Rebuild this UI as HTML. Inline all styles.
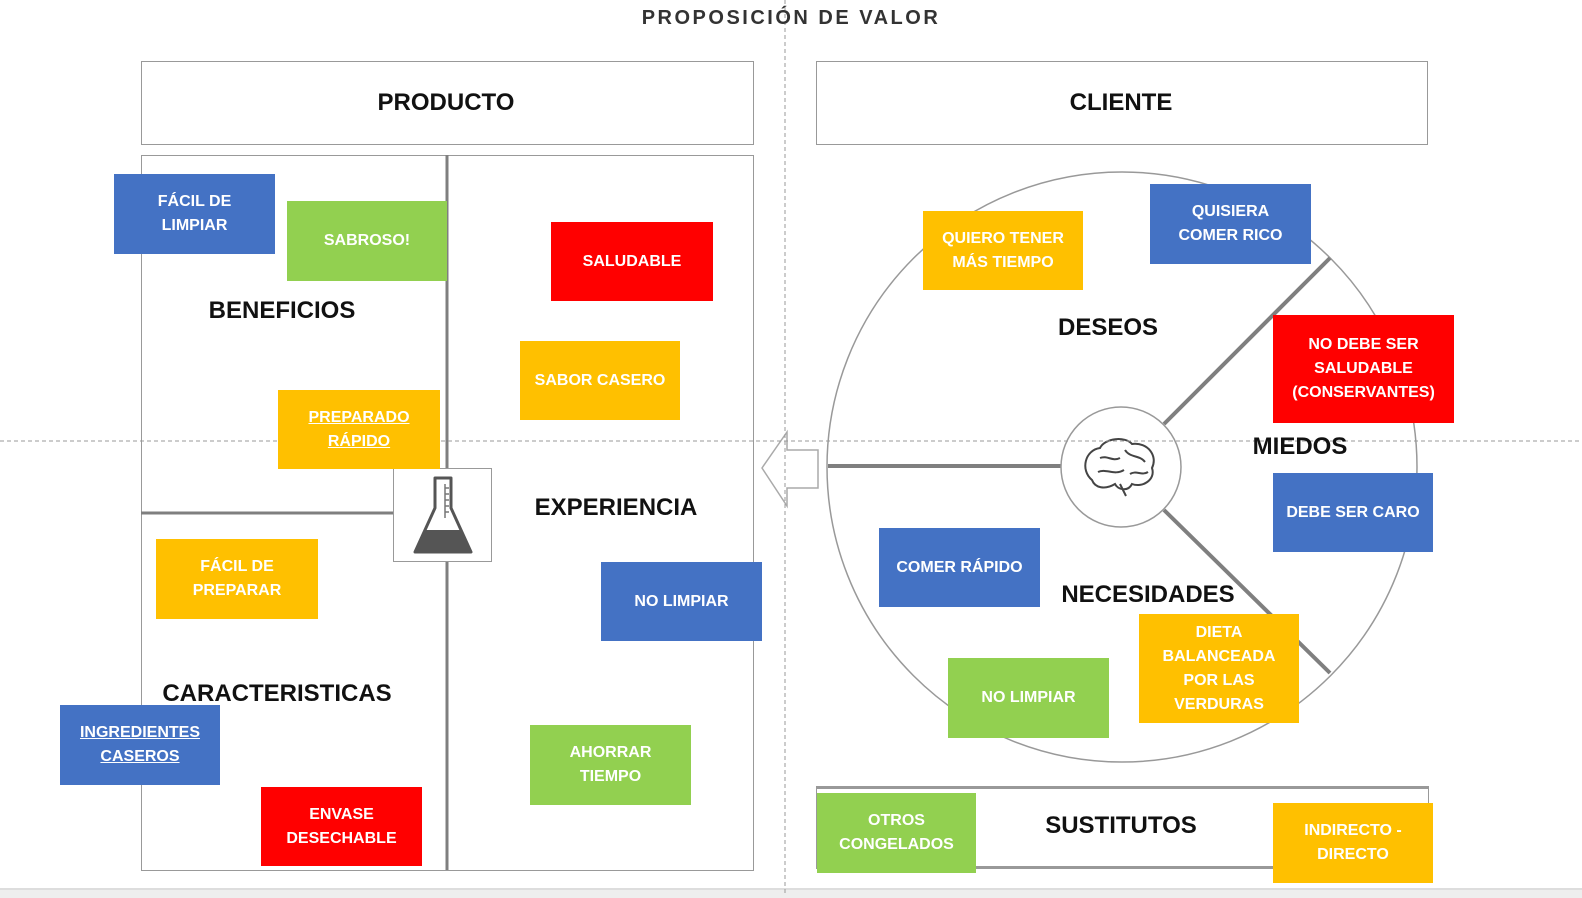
<!DOCTYPE html>
<html><head><meta charset="utf-8"><style>
body{margin:0;width:1582px;height:896px;background:#fff;position:relative;overflow:hidden;font-family:"Liberation Sans Narrow","Liberation Sans",sans-serif}
.b{position:absolute;display:flex;align-items:center;justify-content:center;text-align:center;color:#fff;font-weight:bold;font-size:16px;line-height:24px}
.bl{background:#4472c4}.gr{background:#92d050}.rd{background:#ff0000}.yl{background:#ffc000}
.u{text-decoration:underline}
.l{position:absolute;transform:translate(-50%,-50%);font-weight:bold;font-size:24px;color:#111;white-space:nowrap}
.box{position:absolute;border:1.5px solid #999;box-sizing:border-box;background:#fff}
</style></head><body>
<div style="position:absolute;left:0;top:888px;width:1582px;height:8px;background:#eee;border-top:2px solid #ddd"></div>
<div class="box" style="left:141px;top:61px;width:613px;height:84px"></div>
<div class="box" style="left:816px;top:61px;width:612px;height:84px"></div>
<div class="box" style="left:141px;top:155px;width:613px;height:716px"></div>
<div class="box" style="left:816px;top:786px;width:613px;height:83px;border-bottom-width:3px;border-top-width:3px"></div>
<svg style="position:absolute;left:0;top:0" width="1582" height="896">
<line x1="447" y1="155" x2="447" y2="870" stroke="#7f7f7f" stroke-width="3"/>
<line x1="141" y1="513" x2="393" y2="513" stroke="#7f7f7f" stroke-width="3"/>
<circle cx="1122" cy="467" r="295" fill="none" stroke="#999" stroke-width="1.5"/>
<line x1="828" y1="466" x2="1061" y2="466" stroke="#7f7f7f" stroke-width="4"/>
<line x1="1164" y1="424" x2="1330" y2="258" stroke="#7f7f7f" stroke-width="4"/>
<line x1="1164" y1="510" x2="1330" y2="673" stroke="#7f7f7f" stroke-width="4"/>
<circle cx="1121" cy="467" r="60" fill="#fff" stroke="#999" stroke-width="1.5"/>
<g fill="none" stroke="#444" stroke-width="2">
<path d="M1092 480 C1080 470 1085 450 1100 448 C1105 438 1125 436 1132 444 C1148 442 1158 456 1152 468 C1156 480 1142 488 1132 484 C1128 492 1118 490 1115 484 C1105 490 1095 488 1092 480 Z"/>
<path d="M1100 458 C1108 455 1112 462 1120 458 M1125 450 C1130 458 1140 455 1145 462 M1098 472 C1106 468 1114 476 1124 470 M1130 474 C1136 470 1142 476 1148 472 M1120 484 L1126 496"/>
</g>
<polygon points="762,468 787,432 787,450 818,450 818,488 787,488 787,506" fill="#fff" stroke="#aaa" stroke-width="1.5"/>
<line x1="785" y1="0" x2="785" y2="896" stroke="#999" stroke-dasharray="4,3"/>
<line x1="0" y1="441" x2="1582" y2="441" stroke="#999" stroke-dasharray="4,3"/>
</svg>
<div class="box" style="left:393px;top:468px;width:99px;height:94px"></div>
<svg style="position:absolute;left:393px;top:468px" width="99" height="94">
<path d="M42 10 L58 10 L58 40 L78 84 L22 84 L42 40 Z" fill="#fff" stroke="#555" stroke-width="3" stroke-linejoin="round"/>
<path d="M31 62 L69 62 L78 84 L22 84 Z" fill="#555"/>
<path d="M52 16 L52 50 M52 20h4M52 26h4M52 32h4M52 38h4M52 44h4" stroke="#777" stroke-width="1.5"/>
</svg>
<div style="position:absolute;left:0;width:1582px;top:7px;text-align:center;font-family:'Liberation Sans',sans-serif;font-weight:bold;font-size:20px;letter-spacing:2.5px;color:#333">PROPOSICIÓN DE VALOR</div>
<div class="l" style="left:446px;top:103px">PRODUCTO</div>
<div class="l" style="left:1121px;top:103px">CLIENTE</div>
<div class="l" style="left:282px;top:311px">BENEFICIOS</div>
<div class="l" style="left:616px;top:508px">EXPERIENCIA</div>
<div class="l" style="left:277px;top:694px">CARACTERISTICAS</div>
<div class="l" style="left:1108px;top:328px">DESEOS</div>
<div class="l" style="left:1300px;top:447px">MIEDOS</div>
<div class="l" style="left:1148px;top:595px">NECESIDADES</div>
<div class="l" style="left:1121px;top:826px">SUSTITUTOS</div>
<div class="b bl" style="left:114px;top:174px;width:161px;height:80px">FÁCIL DE<br>LIMPIAR</div>
<div class="b gr" style="left:287px;top:201px;width:160px;height:80px">SABROSO!</div>
<div class="b rd" style="left:551px;top:222px;width:162px;height:79px">SALUDABLE</div>
<div class="b yl" style="left:520px;top:341px;width:160px;height:79px">SABOR CASERO</div>
<div class="b yl u" style="left:278px;top:390px;width:162px;height:79px">PREPARADO<br>RÁPIDO</div>
<div class="b yl" style="left:156px;top:539px;width:162px;height:80px">FÁCIL DE<br>PREPARAR</div>
<div class="b bl" style="left:601px;top:562px;width:161px;height:79px">NO LIMPIAR</div>
<div class="b bl u" style="left:60px;top:705px;width:160px;height:80px">INGREDIENTES<br>CASEROS</div>
<div class="b rd" style="left:261px;top:787px;width:161px;height:79px">ENVASE<br>DESECHABLE</div>
<div class="b gr" style="left:530px;top:725px;width:161px;height:80px">AHORRAR<br>TIEMPO</div>
<div class="b yl" style="left:923px;top:211px;width:160px;height:79px">QUIERO TENER<br>MÁS TIEMPO</div>
<div class="b bl" style="left:1150px;top:184px;width:161px;height:80px">QUISIERA<br>COMER RICO</div>
<div class="b rd" style="left:1273px;top:315px;width:181px;height:108px">NO DEBE SER<br>SALUDABLE<br>(CONSERVANTES)</div>
<div class="b bl" style="left:1273px;top:473px;width:160px;height:79px">DEBE SER CARO</div>
<div class="b bl" style="left:879px;top:528px;width:161px;height:79px">COMER RÁPIDO</div>
<div class="b yl" style="left:1139px;top:614px;width:160px;height:109px">DIETA<br>BALANCEADA<br>POR LAS<br>VERDURAS</div>
<div class="b gr" style="left:948px;top:658px;width:161px;height:80px">NO LIMPIAR</div>
<div class="b gr" style="left:817px;top:793px;width:159px;height:80px">OTROS<br>CONGELADOS</div>
<div class="b yl" style="left:1273px;top:803px;width:160px;height:80px">INDIRECTO -<br>DIRECTO</div>
</body></html>
